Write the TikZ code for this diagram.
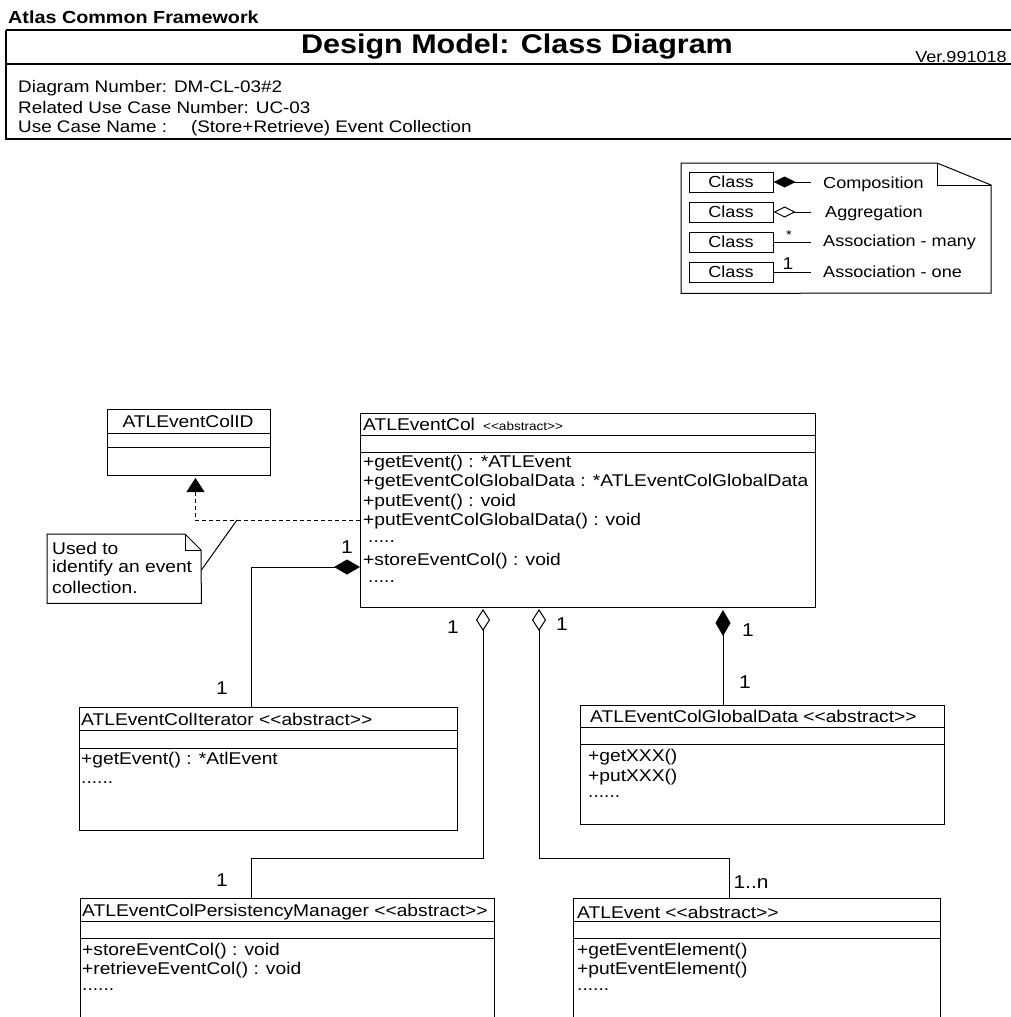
\documentclass[tikz,border=0pt]{standalone}
\usepackage{fontspec}
\setmainfont{Liberation Sans}[FakeStretch=1.13, Ligatures=TeXOff]
\usetikzlibrary{arrows.meta}

\tikzset{
  txt/.style={inner sep=0pt, anchor=west, font=\fontsize{17}{19}\selectfont},
  hdr/.style={inner sep=0pt, anchor=west, font=\fontsize{16.7}{19}\selectfont},
  mult/.style={inner sep=0pt, font=\fontsize{18.5}{20}\selectfont},
  lgtxt/.style={inner sep=0pt, anchor=west, font=\fontsize{16}{18}\selectfont},
  classbox/.style={draw, line width=1pt, inner sep=0pt, anchor=north west},
  cutbox/.style={inner sep=0pt, anchor=north west},
  lgbox/.style={draw, line width=1pt, inner sep=0pt, minimum width=84pt, minimum height=20pt,
    font=\fontsize{16}{18}\selectfont},
  link/.style={line width=1pt},
  comp/.style={-{Diamond[length=26pt,width=15pt]}},
  compsmall/.style={-{Diamond[length=22pt,width=11pt]}},
  aggr/.style={-{Diamond[open,length=22pt,width=14pt]}},
  aggrsmall/.style={-{Diamond[open,length=22pt,width=11pt]}},
  realize/.style={line width=1pt, dash pattern=on 4pt off 3pt, -{Triangle[length=14pt,width=18pt]}}
}

\begin{document}
\begin{tikzpicture}[x=1pt, y=-1pt]
\useasboundingbox (0,0) rectangle (1010,1017);
\fill[white] (0,0) rectangle (1010,1017);

% ---------- title block ----------
\node[inner sep=0pt, anchor=west, font=\bfseries\fontsize{17.5}{19}\selectfont] (fw) at (8,17) {Atlas Common Framework};
\draw[line width=1.2pt] (6,30) -- (1015,30) (6,30) -- (6,139) -- (1015,139);
\draw[line width=1.2pt] (6,64) -- (1015,64);
\node[inner sep=0pt, font=\bfseries\fontsize{27}{30}\selectfont] (ttl) at (517,47) {Design Model: Class Diagram};
\node[inner sep=0pt, anchor=east, font=\fontsize{16}{18}\selectfont] (ver) at (1007,57) {Ver.991018};
\node[hdr] (dn) at (18,88) {Diagram Number: DM-CL-03\#2};
\node[hdr] (ucn) at (18,108) {Related Use Case Number: UC-03};
\node[hdr] (ucname) at (18,128) {Use Case Name :\hspace{24pt}(Store+Retrieve) Event Collection};

% ---------- legend note ----------
\node[inner sep=0pt, minimum width=310pt, minimum height=130pt, anchor=north west] (legend) at (681,163) {};
\draw[line width=1pt] (legend.north west) -- (937,163) -- (991,185) -- (991,293) -- (legend.south west) -- cycle;
\draw[line width=1pt] (937,163) -- (937,185) -- (991,185);
\node[lgbox] (lg1) at (731,182) {Class};
\node[lgbox] (lg2) at (731,212) {Class};
\node[lgbox] (lg3) at (731,242) {Class};
\node[lgbox] (lg4) at (731,272) {Class};
\coordinate (lge1) at (811,182);
\coordinate (lge2) at (811,212);
\coordinate (lge3) at (811,242);
\coordinate (lge4) at (811,272);
\draw[link, compsmall] (lge1) -- (lg1.east);
\draw[link, aggrsmall] (lge2) -- (lg2.east);
\draw[link] (lg3.east) -- (lge3);
\draw[link] (lg4.east) -- (lge4);
\node[inner sep=0pt, font=\fontsize{13}{14}\selectfont] (lgmany) at (789,235) {*};
\node[inner sep=0pt, font=\fontsize{17}{18}\selectfont] (lgone) at (788,264) {1};
\node[lgtxt] (lt1) at (823,184) {Composition};
\node[lgtxt] (lt2) at (825,213) {Aggregation};
\node[lgtxt] (lt3) at (823,242) {Association - many};
\node[lgtxt] (lt4) at (823,272) {Association - one};

% ---------- ATLEventColID ----------
\node[classbox, minimum width=163pt, minimum height=66pt] (cid) at (107,409) {};
\draw[line width=1pt] (107,433) -- (270,433) (107,447) -- (270,447);
\node[txt, anchor=center] (cidname) at (188,421) {ATLEventColID};

% ---------- ATLEventCol ----------
\node[classbox, minimum width=455pt, minimum height=194pt] (col) at (360,413) {};
\draw[line width=1pt] (360,435) -- (815,435) (360,452) -- (815,452);
\node[txt] (colname) at (363,424) {ATLEventCol \,{\fontsize{12}{14}\selectfont<<abstract>>}};
\node[txt] (cm1) at (363,463) {+getEvent() : *ATLEvent};
\node[txt] (cm2) at (363,482) {+getEventColGlobalData : *ATLEventColGlobalData};
\node[txt] (cm3) at (363,502) {+putEvent() : void};
\node[txt] (cm4) at (363,521) {+putEventColGlobalData() : void};
\node[txt] (cm5) at (368,542) {.....};
\node[txt] (cm6) at (363,561) {+storeEventCol() : void};
\node[txt] (cm7) at (368,582) {.....};

% ---------- note ----------
\node[inner sep=0pt, minimum width=154pt, minimum height=69pt, anchor=north west] (note) at (47,534) {};
\draw[line width=1pt] (note.north west) -- (185,534) -- (201,550) -- (note.south east) -- (note.south west) -- cycle;
\draw[line width=1pt] (185,534) -- (185,550) -- (201,550);
\node[txt] (nt1) at (52,548) {Used to};
\node[txt] (nt2) at (52,568) {identify an event};
\node[txt] (nt3) at (52,587) {collection.};

% realization of the identifier
\coordinate (dashjoint) at (237,520);
\draw[realize] (col.west |- dashjoint) -| ([xshift=6.5pt, yshift=-2pt]cid.south);
\draw[link] (note.east |- 0,570) -- (dashjoint);

% ---------- ATLEventColIterator ----------
\node[classbox, minimum width=378pt, minimum height=123pt] (iter) at (79,707) {};
\draw[line width=1pt] (79,730) -- (457,730) (79,748) -- (457,748);
\node[txt] (itname) at (81,719) {ATLEventColIterator <<abstract>>};
\node[txt] (it1) at (81,760) {+getEvent() : *AtlEvent};
\node[txt] (it2) at (81,783) {......};

% ---------- ATLEventColGlobalData ----------
\node[classbox, minimum width=364pt, minimum height=119pt] (gd) at (580,705) {};
\draw[line width=1pt] (580,727) -- (944,727) (580,744) -- (944,744);
\node[txt] (gdname) at (590,716) {ATLEventColGlobalData <<abstract>>};
\node[txt] (gd1) at (588,757) {+getXXX()};
\node[txt] (gd2) at (588,777) {+putXXX()};
\node[txt] (gd3) at (588,797) {......};

% ---------- ATLEventColPersistencyManager (continues below the frame) ----------
\node[cutbox, minimum width=414pt, minimum height=130pt] (pm) at (80,898) {};
\draw[line width=1pt] (80,1030) -- (80,898) -- (494,898) -- (494,1030);
\draw[line width=1pt] (80,921) -- (494,921) (80,938) -- (494,938);
\node[txt] (pmname) at (82,912) {ATLEventColPersistencyManager <<abstract>>};
\node[txt] (pm1) at (82,951) {+storeEventCol() : void};
\node[txt] (pm2) at (82,970) {+retrieveEventCol() : void};
\node[txt] (pm3) at (82,990) {......};

% ---------- ATLEvent (continues below the frame) ----------
\node[cutbox, minimum width=367pt, minimum height=130pt] (ev) at (573,898) {};
\draw[line width=1pt] (573,1030) -- (573,898) -- (940,898) -- (940,1030);
\draw[line width=1pt] (573,921) -- (940,921) (573,938) -- (940,938);
\node[txt] (evname) at (577,912) {ATLEvent <<abstract>>};
\node[txt] (ev1) at (577,951) {+getEventElement()};
\node[txt] (ev2) at (577,970) {+putEventElement()};
\node[txt] (ev3) at (577,990) {......};

% ---------- associations ----------
\coordinate (aggL) at (483,609);
\coordinate (aggR) at (539,609);
\coordinate (compR) at (723,610);
\coordinate (routeY) at (0,858);

\draw[link, comp] (iter.north -| 251,0) |- (col.west |- 0,567);
\draw[link, aggr] (pm.north -| 251,0) |- (aggL |- routeY) -- (aggL);
\draw[link, aggr] (ev.north -| 729,0) |- (aggR |- routeY) -- (aggR);
\draw[link, comp] (gd.north -| compR) -- (compR);

% multiplicities
\node[mult] (m1) at (347,547) {1};
\node[mult] (m2) at (222,688) {1};
\node[mult] (m3) at (453,627) {1};
\node[mult] (m4) at (562,624) {1};
\node[mult] (m5) at (748,630) {1};
\node[mult] (m6) at (745,682) {1};
\node[mult] (m7) at (222,880) {1};
\node[mult] (m8) at (751,882) {1..n};
\end{tikzpicture}
\end{document}
